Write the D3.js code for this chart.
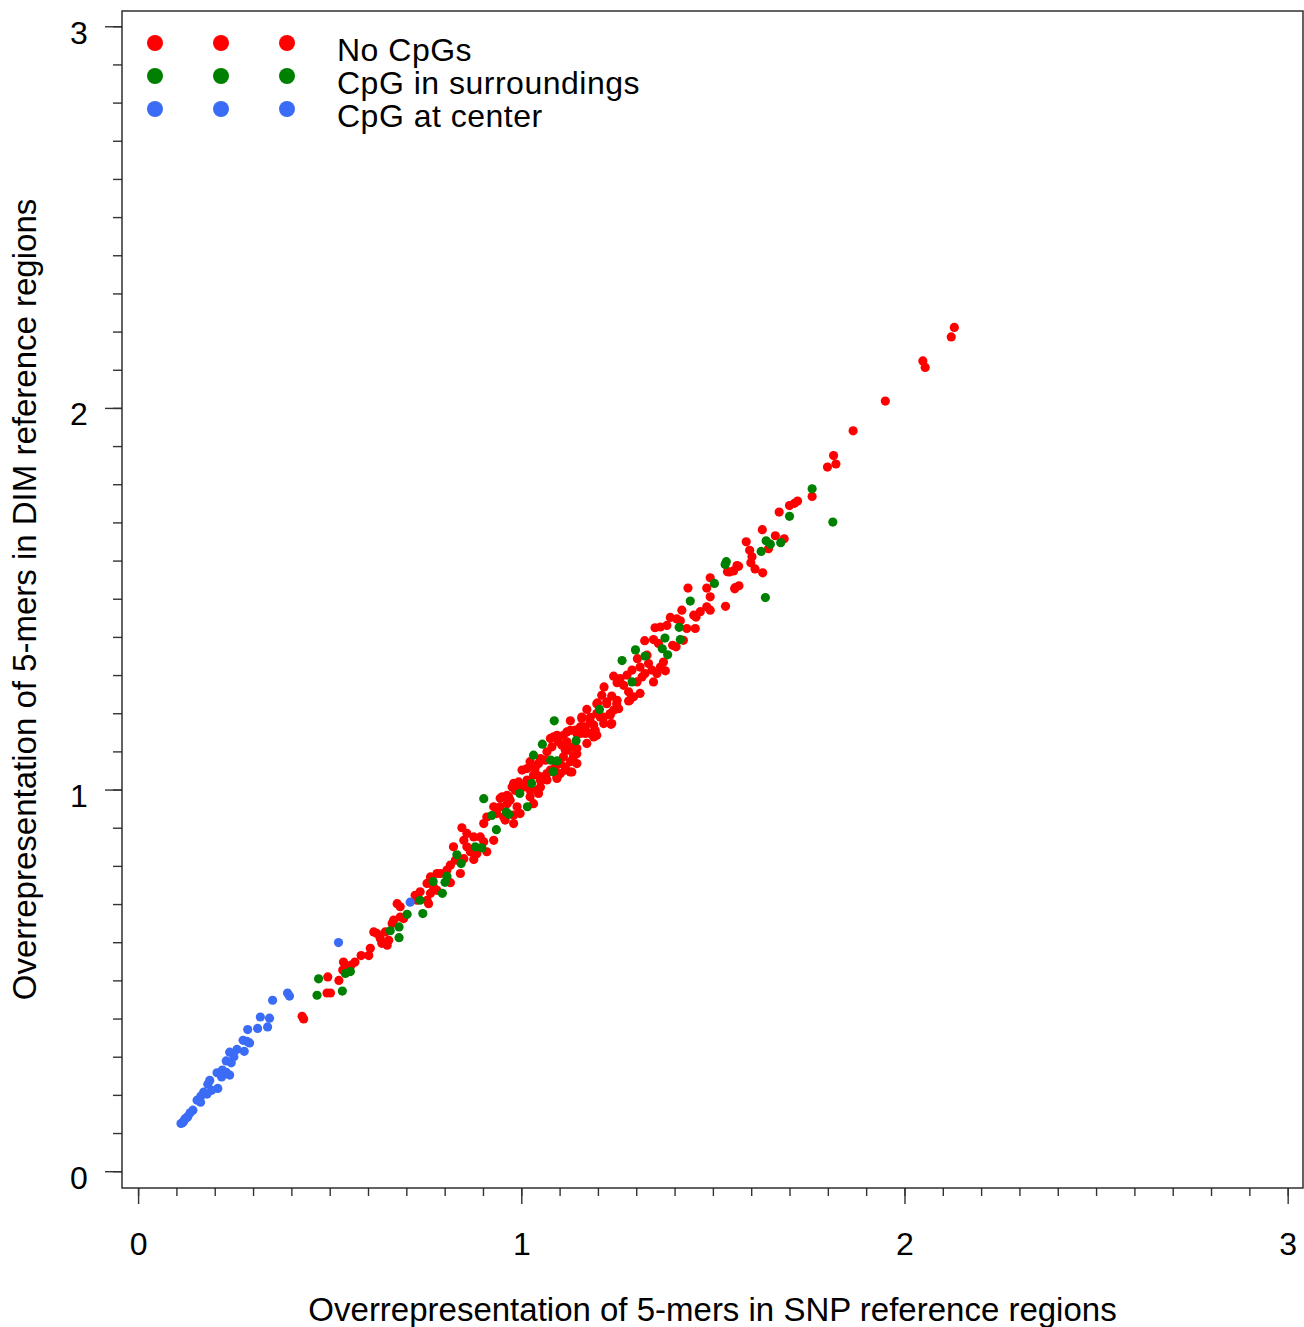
<!DOCTYPE html>
<html>
<head>
<meta charset="utf-8">
<script src="https://cdn.jsdelivr.net/npm/d3@7"></script>
<style>
  body { margin: 0; background: #fff; }
  svg text { font-family: "Liberation Sans", Arial, Helvetica, sans-serif; fill: #000; }
</style>
</head>
<body>
<div id="chart-area"></div>
<script>
// categories + colours
const CATEGORIES = ["No CpGs", "CpG in surroundings", "CpG at center"]
const COLORS = ["#ff0000", "#008000", "#3a6cf5"]

const MAJOR_TICKS = [0, 1, 2, 3]
const TICK_LABELS = ["0", "1", "2", "3"]

const X_TITLE = "Overrepresentation of 5-mers in SNP reference regions"
const Y_TITLE = "Overrepresentation of 5-mers in DIM reference regions"

// [SNP overrepresentation, DIM overrepresentation]
const noCpG = [
  [2.130, 2.211], [2.122, 2.186], [2.048, 2.123], [2.054, 2.106], [1.950, 2.018],
  [1.866, 1.940], [1.815, 1.875], [1.821, 1.853], [1.799, 1.845], [1.759, 1.768],
  [1.721, 1.756], [1.713, 1.750], [1.700, 1.744], [1.673, 1.727], [1.629, 1.681],
  [1.587, 1.649], [1.663, 1.665], [1.686, 1.657], [1.596, 1.627], [1.602, 1.610],
  [1.599, 1.594], [1.645, 1.631], [1.567, 1.585], [1.543, 1.570], [1.554, 1.573],
  [1.610, 1.578], [1.630, 1.568], [1.493, 1.555], [1.484, 1.528], [1.493, 1.505],
  [1.568, 1.534], [1.557, 1.526], [1.538, 1.571], [1.563, 1.587],
  [1.435, 1.528], [1.558, 1.529], [1.533, 1.480], [1.484, 1.479], [1.493, 1.470],
  [1.467, 1.466], [1.456, 1.452], [1.450, 1.457], [1.419, 1.470], [1.389, 1.451],
  [1.406, 1.447], [1.415, 1.442], [1.432, 1.422], [1.454, 1.422], [1.349, 1.424],
  [1.363, 1.426], [1.380, 1.430], [1.322, 1.390], [1.345, 1.393], [1.358, 1.383],
  [1.395, 1.378], [1.404, 1.374], [1.423, 1.391], [1.303, 1.343], [1.328, 1.352],
  [1.332, 1.330], [1.341, 1.313], [1.363, 1.321], [1.354, 1.304], [1.345, 1.282],
  [1.376, 1.311], [1.371, 1.334], [1.310, 1.321], [1.323, 1.304], [1.315, 1.295],
  [1.241, 1.297], [1.258, 1.291], [1.276, 1.300], [1.289, 1.313], [1.250, 1.280],
  [1.267, 1.273], [1.302, 1.282], [1.280, 1.256], [1.283, 1.234], [1.293, 1.243],
  [1.310, 1.252], [1.216, 1.269], [1.210, 1.247], [1.236, 1.245], [1.223, 1.225],
  [1.250, 1.234], [1.254, 1.212], [1.232, 1.199], [1.236, 1.173], [1.199, 1.227],
  [1.197, 1.199], [1.215, 1.190], [1.171, 1.210], [1.158, 1.190], [1.180, 1.177],
  [1.154, 1.164], [1.128, 1.180], [1.193, 1.155], [1.167, 1.147], [1.145, 1.147],
  [1.128, 1.155], [1.110, 1.142], [1.171, 1.121], [1.189, 1.138], [1.076, 1.134],
  [1.093, 1.142], [1.106, 1.116], [1.123, 1.103], [1.145, 1.108], [1.136, 1.086],
  [1.145, 1.068], [1.128, 1.046], [1.115, 1.059], [1.102, 1.068], [1.089, 1.059],
  [1.076, 1.051], [1.063, 1.077], [1.045, 1.068], [1.036, 1.055], [1.041, 1.038],
  [1.054, 1.033], [1.067, 1.025], [1.102, 1.042], [1.093, 1.029], [1.002, 1.051],
  [1.015, 1.025], [1.006, 1.007], [0.989, 0.998], [0.976, 1.007], [1.023, 0.998],
  [1.045, 0.990], [1.050, 1.007], [0.950, 0.981], [0.967, 0.981],
  [1.197, 1.225], [1.223, 1.230], [1.249, 1.225], [1.280, 1.232], [1.241, 1.208],
  [1.232, 1.195], [1.206, 1.190], [1.180, 1.189], [1.158, 1.186], [1.189, 1.169],
  [1.215, 1.173], [1.234, 1.171], [1.167, 1.164], [1.141, 1.156], [1.119, 1.151],
  [1.084, 1.138], [1.097, 1.125], [1.119, 1.125], [1.154, 1.147], [1.180, 1.147],
  [1.197, 1.142], [1.136, 1.112], [1.115, 1.103], [1.145, 1.094], [1.110, 1.086],
  [1.128, 1.073], [1.132, 1.046], [1.115, 1.051], [1.093, 1.033], [1.067, 1.042],
  [1.050, 1.024], [1.032, 1.038], [1.023, 1.073], [1.050, 1.081], [1.067, 1.099],
  [1.080, 1.112], [1.015, 1.055], [0.993, 1.020], [0.980, 1.016], [0.984, 0.998],
  [0.963, 0.985], [0.945, 0.977], [0.971, 0.972], [1.023, 0.981], [1.041, 0.998],
  [0.945, 0.955], [0.928, 0.955], [0.936, 0.937], [0.954, 0.928], [0.980, 0.933],
  [0.997, 0.937], [0.980, 0.911], [0.958, 0.920], [0.910, 0.928], [0.902, 0.911],
  [1.032, 0.963], [0.989, 0.955], [0.963, 0.963], [0.845, 0.900], [0.858, 0.885],
  [0.876, 0.876], [0.893, 0.876], [0.928, 0.867], [0.902, 0.863], [0.850, 0.867],
  [0.858, 0.850], [0.867, 0.837], [0.884, 0.832], [0.910, 0.837], [0.823, 0.850],
  [0.828, 0.815], [0.850, 0.819], [0.876, 0.817], [0.815, 0.802], [0.806, 0.789],
  [0.789, 0.780], [0.780, 0.780], [0.815, 0.756], [0.841, 0.780], [0.763, 0.771],
  [0.754, 0.754], [0.771, 0.745], [0.780, 0.736], [0.763, 0.728], [0.736, 0.732],
  [0.723, 0.723], [0.728, 0.710], [0.754, 0.710], [0.758, 0.701], [0.684, 0.693],
  [0.676, 0.701], [0.684, 0.666], [0.693, 0.662], [0.667, 0.658], [0.663, 0.649],
  [0.645, 0.627], [0.623, 0.623], [0.615, 0.627], [0.632, 0.610], [0.636, 0.597],
  [0.650, 0.592], [0.606, 0.584], [0.654, 0.605],
  [0.428, 0.406], [0.432, 0.399], [0.495, 0.509], [0.493, 0.467], [0.502, 0.467],
  [0.524, 0.500], [0.536, 0.548], [0.534, 0.527], [0.545, 0.535], [0.556, 0.540],
  [0.566, 0.548], [0.582, 0.565], [0.602, 0.565]
]

const cpgSurround = [
  [0.471, 0.504], [0.467, 0.461], [0.533, 0.472], [0.541, 0.518], [0.554, 0.523],
  [0.658, 0.630], [0.681, 0.640], [0.681, 0.612], [0.702, 0.673], [0.743, 0.675],
  [0.736, 0.710], [0.770, 0.759], [0.794, 0.728], [0.801, 0.757],
  [1.086, 1.180], [1.055, 1.119], [1.032, 1.090], [1.143, 1.128], [1.077, 1.077],
  [1.093, 1.075], [1.083, 1.047], [1.027, 1.016], [0.996, 0.990], [0.902, 0.976],
  [1.016, 0.955], [0.923, 0.932], [0.961, 0.941], [0.967, 0.935], [0.935, 0.895],
  [0.880, 0.850], [0.897, 0.847], [0.832, 0.829], [0.843, 0.806], [0.806, 0.773],
  [1.204, 1.210], [1.700, 1.716], [1.639, 1.652], [1.650, 1.643], [1.677, 1.647],
  [1.626, 1.624], [1.535, 1.597], [1.532, 1.590], [1.504, 1.540], [1.637, 1.503],
  [1.441, 1.494], [1.412, 1.425], [1.415, 1.393], [1.375, 1.397], [1.368, 1.369],
  [1.382, 1.353], [1.298, 1.366], [1.323, 1.350], [1.263, 1.338], [1.289, 1.282],
  [1.759, 1.788], [1.813, 1.701]
]

const cpgCenter = [
  [0.523, 0.599], [0.710, 0.705], [0.390, 0.467], [0.395, 0.459], [0.351, 0.448],
  [0.319, 0.404], [0.343, 0.401], [0.286, 0.371], [0.312, 0.374], [0.338, 0.378],
  [0.274, 0.343], [0.291, 0.336], [0.284, 0.340], [0.239, 0.312], [0.258, 0.319],
  [0.277, 0.314], [0.230, 0.289], [0.243, 0.284], [0.250, 0.300], [0.206, 0.258],
  [0.220, 0.265], [0.230, 0.259], [0.239, 0.252], [0.218, 0.247], [0.187, 0.238],
  [0.182, 0.228], [0.208, 0.217], [0.192, 0.212], [0.171, 0.207], [0.164, 0.197],
  [0.180, 0.202], [0.154, 0.186], [0.163, 0.181], [0.143, 0.160], [0.136, 0.153],
  [0.130, 0.144], [0.122, 0.137], [0.116, 0.127], [0.128, 0.141], [0.112, 0.125],
  [0.119, 0.130]
]

const SERIES = [noCpG, cpgSurround, cpgCenter]

const WIDTH = 1304
const HEIGHT = 1327
const BOX = { LEFT: 122, RIGHT: 1303, TOP: 11, BOTTOM: 1188 }

const svg = d3.select("#chart-area").append("svg")
  .attr("width", WIDTH)
  .attr("height", HEIGHT)

const x = d3.scaleLinear()
  .domain([-0.042, 3.04])
  .range([BOX.LEFT, BOX.RIGHT])

const y = d3.scaleLinear()
  .domain([-0.044, 3.04])
  .range([BOX.BOTTOM, BOX.TOP])

const minorTicks = d3.range(0, 31).map(i => i / 10)

// x axis: ticks hanging from the box bottom
const xMinor = d3.axisBottom(x).tickValues(minorTicks).tickSize(8).tickFormat("")
svg.append("g")
  .attr("transform", `translate(0, ${BOX.BOTTOM})`)
  .call(xMinor)
  .call(g => g.select(".domain").remove())
  .call(g => g.selectAll("line").attr("stroke", "#333").attr("stroke-width", 1.4))

const xMajor = d3.axisBottom(x).tickValues(MAJOR_TICKS).tickSize(16)
  .tickFormat((d, i) => TICK_LABELS[i])
svg.append("g")
  .attr("transform", `translate(0, ${BOX.BOTTOM})`)
  .call(xMajor)
  .call(g => g.select(".domain").remove())
  .call(g => g.selectAll("line").attr("stroke", "#333").attr("stroke-width", 1.4))
  .call(g => g.selectAll("text")
    .attr("y", 67).attr("dy", 0)
    .attr("font-size", "32px"))

// y axis
const yMinor = d3.axisLeft(y).tickValues(minorTicks).tickSize(9).tickFormat("")
svg.append("g")
  .attr("transform", `translate(${BOX.LEFT}, 0)`)
  .call(yMinor)
  .call(g => g.select(".domain").remove())
  .call(g => g.selectAll("line").attr("stroke", "#333").attr("stroke-width", 1.4))

const yMajor = d3.axisLeft(y).tickValues(MAJOR_TICKS).tickSize(17)
  .tickFormat((d, i) => TICK_LABELS[i])
svg.append("g")
  .attr("transform", `translate(${BOX.LEFT}, 0)`)
  .call(yMajor)
  .call(g => g.select(".domain").remove())
  .call(g => g.selectAll("line").attr("stroke", "#333").attr("stroke-width", 1.4))
  .call(g => g.selectAll("text")
    .attr("x", -43).attr("dy", 17)
    .attr("text-anchor", "middle")
    .attr("font-size", "32px"))

// plot box
svg.append("rect")
  .attr("x", BOX.LEFT)
  .attr("y", BOX.TOP)
  .attr("width", BOX.RIGHT - BOX.LEFT)
  .attr("height", BOX.BOTTOM - BOX.TOP)
  .attr("fill", "none")
  .attr("stroke", "#222")
  .attr("stroke-width", 1.4)

// points: red first, then green, then blue on top
SERIES.forEach((data, i) => {
  svg.append("g").selectAll("circle")
    .data(data)
    .enter().append("circle")
      .attr("cx", d => x(d[0]))
      .attr("cy", d => y(d[1]))
      .attr("r", 4.6)
      .attr("fill", COLORS[i])
})

// legend: three dots per row then the label
const legend = svg.append("g")
CATEGORIES.forEach((name, i) => {
  const row = legend.append("g").attr("transform", `translate(0, ${43 + i * 33})`)
  ;[155, 221, 287].forEach(cx => {
    row.append("circle").attr("cx", cx).attr("cy", 0).attr("r", 8).attr("fill", COLORS[i])
  })
  row.append("text")
    .attr("x", 337)
    .attr("y", 18)
    .attr("font-size", "32px")
    .attr("letter-spacing", "0.5px")
    .text(name)
})

// axis titles
svg.append("text")
  .attr("x", (BOX.LEFT + BOX.RIGHT) / 2)
  .attr("y", 1321)
  .attr("font-size", "33px")
  .attr("text-anchor", "middle")
  .text(X_TITLE)

svg.append("text")
  .attr("transform", `translate(36, ${(BOX.TOP + BOX.BOTTOM) / 2}) rotate(-90)`)
  .attr("font-size", "33px")
  .attr("text-anchor", "middle")
  .text(Y_TITLE)
</script>
</body>
</html>
